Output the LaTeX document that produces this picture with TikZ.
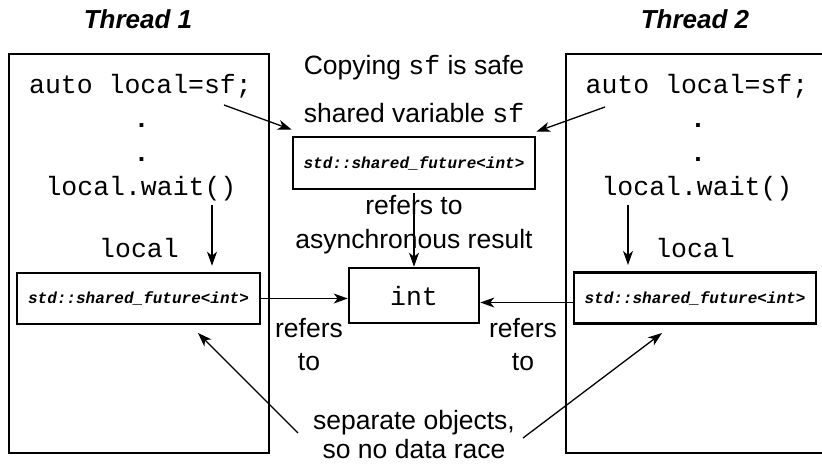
\documentclass[tikz,border=0pt]{standalone}
\usepackage{fontspec}
\setmainfont{Liberation Sans}
\setmonofont{Liberation Mono}
\usetikzlibrary{arrows.meta}
\begin{document}
\begin{tikzpicture}[x=1pt,y=-1pt,
  threadbox/.style={draw, line width=2pt, inner sep=0pt},
  objbox/.style={draw, line width=2.6pt, inner sep=0pt},
  arr/.style={line width=1.3pt, -{Stealth[length=14pt,width=10pt,inset=4pt]}},
  txt/.style={font=\fontsize{26.5}{33}\selectfont, anchor=base, inner sep=0pt},
  code/.style={font=\fontsize{26.5}{33}\selectfont\ttfamily, anchor=base, inner sep=0pt},
  dotc/.style={font=\fontsize{26.5}{33}\selectfont\ttfamily\bfseries, anchor=base, inner sep=0pt},
  ttl/.style={font=\fontsize{26}{30}\selectfont\bfseries\itshape, anchor=base, inner sep=0pt},
  smallcode/.style={font=\fontsize{16}{18}\selectfont\ttfamily\bfseries\itshape}
]
\useasboundingbox (0,0) rectangle (822,464);

% thread boxes and titles
\node[threadbox, minimum width=260pt, minimum height=399pt] (t1) at (139,253.5) {};
\node[threadbox, minimum width=266pt, minimum height=399pt] (t2) at (699,253.5) {};
\node[ttl] (h1) at (138,28) {Thread 1};
\node[ttl] (h2) at (695,28) {Thread 2};

% thread 1 code
\node[code] (a1) at (140.5,93) {auto local=sf;};
\node[dotc] (d1) at (141.5,127) {.};
\node[dotc] (e1) at (141.5,161.5) {.};
\node[code] (w1) at (141,195) {local.wait()};
\node[code] (l1) at (139,257) {local};
\node[objbox, smallcode, minimum width=243pt, minimum height=51pt] (o1) at (138.5,298.5) {std::shared\_future<int>};

% thread 2 code
\node[code] (a2) at (697,93) {auto local=sf;};
\node[dotc] (d2) at (698,127) {.};
\node[dotc] (e2) at (698,161.5) {.};
\node[code] (w2) at (697,195) {local.wait()};
\node[code] (l2) at (695,257) {local};
\node[objbox, smallcode, minimum width=242pt, minimum height=51.5pt] (o2) at (695,298) {std::shared\_future<int>};

% centre
\node[txt] (cp) at (414,74) {Copying \texttt{sf} is safe};
\node[txt] (sv) at (414,122) {shared variable \texttt{sf}};
\node[objbox, smallcode, minimum width=242pt, minimum height=52pt] (sf) at (414,163) {std::shared\_future<int>};
\node[txt] (rt1) at (414,214) {refers to};
\node[txt] (rt2) at (414,248) {asynchronous result};
\node[objbox, font=\fontsize{26.5}{33}\selectfont\ttfamily, minimum width=130pt, minimum height=55pt] (int) at (414,295.5) {int};
\node[txt] (rl1) at (309,337) {refers};
\node[txt] (rl2) at (309,370) {to};
\node[txt] (rr1) at (523,337) {refers};
\node[txt] (rr2) at (523,370) {to};
\node[txt] (sep1) at (414,429.5) {separate objects,};
\node[txt] (sep2) at (414,458.5) {so no data race};

% connectors
\coordinate (s1) at (224,105);
\coordinate (s2) at (605,107);
\draw[arr] (s1) -- ([yshift=6pt]sf.north west);
\draw[arr] (s2) -- ([yshift=4pt]sf.north east);
\draw[arr] ([yshift=-3pt]sf.south) -- (int.north);

\coordinate (q1) at (212,205);
\coordinate (q2) at (628,205);
\draw[arr, shorten >=6pt] (q1) -- (q1 |- o1.north);
\draw[arr, shorten >=6pt] (q2) -- (q2 |- o2.north);

\draw[arr] (o1.east) -- (o1.east -| int.west);
\draw[arr] ([yshift=-4.5pt]o2.west) -- ([yshift=-4.5pt]o2.west -| int.east);

\coordinate (p1) at (298,433);
\coordinate (p1t) at (198,333);
\coordinate (p2) at (523,438);
\coordinate (p2t) at (662,333);
\draw[arr] (p1) -- (p1t);
\draw[arr] (p2) -- (p2t);
\end{tikzpicture}
\end{document}
